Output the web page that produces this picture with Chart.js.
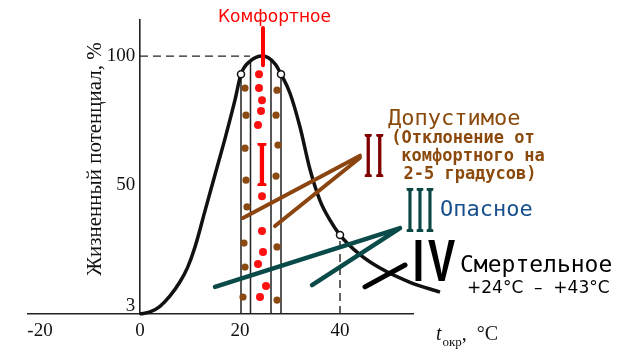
<!DOCTYPE html>
<html><head><meta charset="utf-8">
<script src="https://cdn.jsdelivr.net/npm/chart.js@4/dist/chart.umd.min.js"></script>
<style>html,body{margin:0;padding:0;background:#fff;}#wrap{width:627px;height:355px;}</style>
</head><body><div id="wrap"><canvas id="c" width="627" height="355"></canvas></div>
<script>
// ---- data ----
const xTicks = [-20, 0, 20, 40];
const yTicks = [3, 50, 100];
const curveT = [0, 2, 4, 6, 8, 9.5, 11, 13, 15, 17, 19, 20.2, 22, 24.5, 27, 28.2, 30, 32, 34, 36, 38, 40, 44, 48, 54, 60];
const curveV = [0, 0.8, 3, 7, 12.5, 18, 26, 40, 54, 68, 83, 93, 98, 100, 97, 93, 85.6, 72.5, 56, 44, 36.4, 30.6, 23, 17.8, 12.3, 8.5];
const markerT = [20.2, 28.2, 40];
const markerV = [93, 93, 30.6];
const bandT = [20.2, 22.1, 26.2, 28.2];
const bandTop = [93, 98, 98.5, 93];
const brownDotT = [21, 21.2, 21, 21.2, 21.4, 20.8, 21, 20.6, 27.4, 27.2, 27.6, 27.2, 27.4, 27.4];
const brownDotV = [87.6, 77.1, 64.3, 51.9, 41.5, 27.5, 18.2, 6.6, 86.8, 77.1, 65.5, 53.5, 26, 5.4];
const redDotT = [23.8, 23.8, 24.4, 24.2, 23.6, 24.4, 24.4, 24.6, 23.6, 25.2, 24];
const redDotV = [93, 87.6, 82.9, 78.7, 73.3, 45.7, 32.2, 24, 19.4, 10.9, 6.6];
const guideFromT = [0, 40], guideFromV = [100, 0], guideToT = [22, 40], guideToV = [100, 30.6];
const redPtrFromT = [24.6], redPtrFromV = [110.9], redPtrToT = [24.6], redPtrToV = [96.5];
const brownPtrFromT = [20.6, 27], brownPtrFromV = [37.2, 34.1], brownPtrToT = [44, 44], brownPtrToV = [61.4, 60.6];
const tealPtrFromT = [15, 34.4], tealPtrFromV = [10.5, 11.2], tealPtrToT = [52, 52], tealPtrToV = [33.3, 33.3];
const blackPtrFromT = [45], blackPtrFromV = [10.5], blackPtrToT = [53], blackPtrToV = [19];

// ---- texts ----
const yTitle = 'Жизненный потенциал, %';
const xTitleMain = 't', xTitleSub = 'окр', xTitleUnit = ',  °C';
const comfortText = 'Комфортное';
const allowText = ['Допустимое', '(Отклонение от', 'комфортного на', '2-5 градусов)'];
const dangerText = 'Опасное';
const deathText = ['Смертельное', '+24°C  –  +43°C'];

// ---- helpers ----
const pts = (xs, ys) => xs.map((x, i) => ({x, y: ys[i]}));
const segs = (fx, fy, tx, ty) => {
  const out = [];
  fx.forEach((x, i) => { out.push({x, y: fy[i]}, {x: tx[i], y: ty[i]}, {x: tx[i], y: null}); });
  return out;
};
const bandLines = segs(bandT, bandT.map(() => 0), bandT, bandTop);

const lineDs = (data, color, width, order, extra) => Object.assign({
  data, borderColor: color, borderWidth: width, pointRadius: 0, fill: false,
  tension: 0, spanGaps: false, clip: false, order, borderCapStyle: 'round'
}, extra || {});
const dotDs = (data, color, r, order, border, bw) => ({
  data, showLine: false, pointRadius: r, pointBackgroundColor: color, pointBorderColor: border || color,
  pointBorderWidth: bw || 0, clip: false, order
});

const annot = {
  id: 'annot',
  afterDraw(chart) {
    const ctx = chart.ctx;
    ctx.save();
    // y axis title
    ctx.save();
    ctx.translate(95, 159); ctx.rotate(-Math.PI / 2);
    ctx.font = '21px "Liberation Serif"'; ctx.fillStyle = '#111';
    ctx.textAlign = 'center'; ctx.textBaseline = 'middle';
    ctx.fillText(yTitle, 0, 0);
    ctx.restore();
    // x axis title
    ctx.fillStyle = '#111'; ctx.textBaseline = 'alphabetic'; ctx.textAlign = 'left';
    let xx = 436;
    ctx.font = 'italic 20px "Liberation Serif"'; ctx.fillText(xTitleMain, xx, 340); xx += ctx.measureText(xTitleMain).width + 1;
    ctx.font = '13px "Liberation Serif"'; ctx.fillText(xTitleSub, xx, 346); xx += ctx.measureText(xTitleSub).width;
    ctx.font = '20px "Liberation Serif"'; ctx.fillText(xTitleUnit, xx, 340);

    // roman numerals
    const numeral = (txt, cx, base, size, sx, color, weight, family, spacing) => {
      ctx.save(); ctx.translate(cx + (spacing || 0) * sx / 2, base); ctx.scale(sx, 1);
      ctx.font = weight + ' ' + size + 'px ' + family; ctx.fillStyle = color;
      ctx.textAlign = 'center'; ctx.textBaseline = 'alphabetic';
      ctx.letterSpacing = (spacing || 0) + 'px';
      ctx.fillText(txt, 0, 0); ctx.restore();
    };
    numeral('I', 262, 186, 65, 0.43, '#ff0000', 'bold', '"Liberation Serif"');
    numeral('II', 374, 177, 66, 0.33, '#800000', 'bold', '"Liberation Serif"', 9.2);
    numeral('III', 420, 232, 68, 0.3, '#0a4745', 'bold', '"Liberation Serif"', 6.8);
    numeral('IV', 434, 281, 60, 0.68, '#000', 'bold', '"Liberation Sans"', 6);

    // labels
    ctx.textBaseline = 'middle';
    ctx.textAlign = 'left';
    ctx.fillStyle = '#ff0000'; ctx.font = '17px "DejaVu Sans"';
    ctx.fillText(comfortText, 218, 18);

    ctx.fillStyle = '#8b4a0c';
    ctx.font = '22px "DejaVu Sans Mono"'; ctx.fillText(allowText[0], 388, 119);
    ctx.textAlign = 'center';
    ctx.font = 'bold 17px "DejaVu Sans Mono"';
    ctx.fillText(allowText[1], 463, 139);
    ctx.fillText(allowText[2], 473, 157);
    ctx.fillText(allowText[3], 470, 175);

    ctx.textAlign = 'left';
    ctx.fillStyle = '#17508c'; ctx.font = '22px "DejaVu Sans Mono"';
    ctx.fillText(dangerText, 440, 210);

    ctx.fillStyle = '#000'; ctx.font = '23px "DejaVu Sans Mono"';
    ctx.fillText(deathText[0], 460, 266);
    ctx.font = '17px "DejaVu Sans"';
    ctx.fillText(deathText[1], 467, 289);
    ctx.restore();
  }
};

new Chart(document.getElementById('c'), {
  type: 'line',
  data: {
    datasets: [
      dotDs(pts(markerT, markerV), '#fff', 3.5, 1, '#111', 1.5),
      lineDs(segs(redPtrFromT, redPtrFromV, redPtrToT, redPtrToV), '#ff0000', 4, 2),
      lineDs(segs(blackPtrFromT, blackPtrFromV, blackPtrToT, blackPtrToV), '#000', 5, 3),
      lineDs(segs(tealPtrFromT, tealPtrFromV, tealPtrToT, tealPtrToV), '#0a4a48', 4.5, 3),
      lineDs(segs(brownPtrFromT, brownPtrFromV, brownPtrToT, brownPtrToV), '#8b4510', 4, 3),
      dotDs(pts(redDotT, redDotV), '#ff1010', 4, 5),
      dotDs(pts(brownDotT, brownDotV), '#8b4a12', 3.6, 5),
      lineDs(pts(curveT, curveV), '#111', 3.5, 6, {cubicInterpolationMode: 'monotone', borderCapStyle: 'butt', borderJoinStyle: 'round'}),
      lineDs(bandLines, '#222', 1.5, 8, {borderCapStyle: 'butt'}),
      lineDs(segs(guideFromT, guideFromV, guideToT, guideToV), '#222', 1.4, 8, {borderDash: [8, 5], borderCapStyle: 'butt'})
    ]
  },
  options: {
    responsive: false, animation: false, events: [],
    layout: {padding: {left: 28, right: 214, top: 20, bottom: 41}},
    plugins: {legend: {display: false}, tooltip: {enabled: false}},
    scales: {
      x: {
        type: 'linear', min: -22.4, max: 54.6, position: {y: 0},
        grid: {display: false, drawTicks: false},
        border: {display: true, color: '#222', width: 1.6},
        afterBuildTicks: s => { s.ticks = xTicks.map(v => ({value: v})); },
        afterFit: s => { s.height = 0; },
        ticks: {font: {family: '"Liberation Serif"', size: 19}, color: '#111', padding: 6, autoSkip: false, maxRotation: 0, callback: v => String(v)}
      },
      y: {
        type: 'linear', min: 0, max: 114, position: {x: 0},
        grid: {display: false, drawTicks: false},
        border: {display: true, color: '#222', width: 1.6},
        afterBuildTicks: s => { s.ticks = yTicks.map(v => ({value: v})); },
        afterFit: s => { s.width = 0; },
        ticks: {font: {family: '"Liberation Serif"', size: 19}, color: '#111', padding: 6, autoSkip: false, callback: v => String(v) + ' '}
      }
    }
  },
  plugins: [annot]
});
</script></body></html>
